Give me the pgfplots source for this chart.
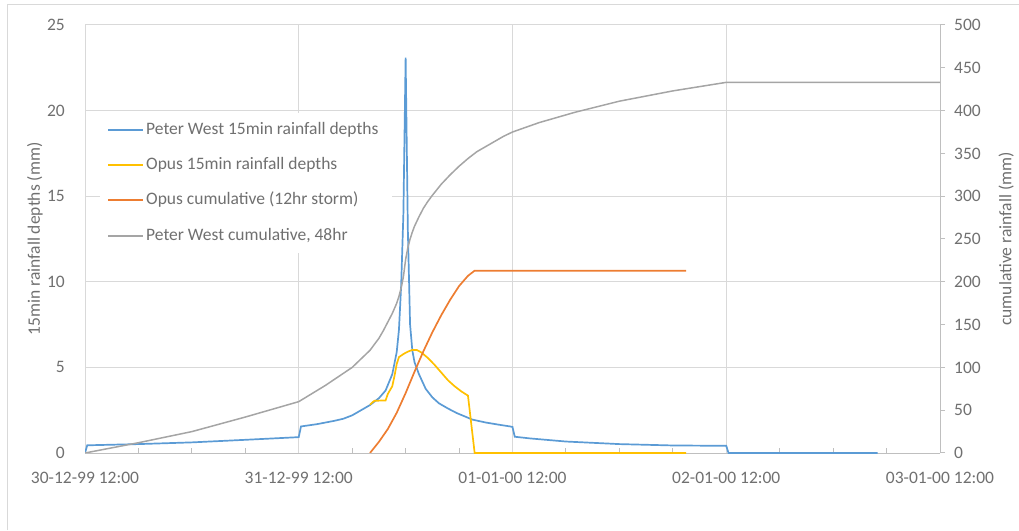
\documentclass[border=0pt]{standalone}
\usepackage{pgfplots}
\pgfplotsset{compat=1.18}
\usepackage{fontspec}
\setmainfont{Carlito}

\definecolor{pwblue}{HTML}{5B9BD5}
\definecolor{opyellow}{HTML}{FFC000}
\definecolor{oporange}{HTML}{ED7D31}
\definecolor{pwgray}{HTML}{A5A5A5}
\definecolor{gridc}{HTML}{D9D9D9}
\definecolor{axc}{HTML}{BFBFBF}
\definecolor{txt}{HTML}{707070}

\begin{document}
\begin{tikzpicture}[x=1pt,y=1pt]
\path[use as bounding box] (0,0) rectangle (1019,530);
% chart area frame
\draw[gridc, line width=1pt] (7,0) -- (7,525) -- (1019,525);

\pgfplotsset{every axis/.append style={
  scale only axis, width=855pt, height=428pt,
  at={(85pt,77pt)}, anchor=south west,
  xmin=0, xmax=96,
  font=\fontsize{17.5}{21}\selectfont,
  tick label style={text=txt},
  label style={text=txt},
}}

% primary axis: 15 minute depths
\begin{axis}[
  ymin=0, ymax=25, ytick={0,5,...,25},
  xtick={0,24,48,72,96},
  xticklabels={30-12-99 12:00, 31-12-99 12:00, 01-01-00 12:00, 02-01-00 12:00, 03-01-00 12:00},
  minor xtick={6,12,18,30,36,42,54,60,66,78,84,90},
  grid=major,
  major grid style={gridc, line width=1pt},
  axis x line*=bottom, axis y line*=left,
  x axis line style={axc, line width=1pt, -},
  y axis line style={gridc, line width=1pt, -},
  ytick style={draw=none},
  xtick style={axc, line width=1pt},
  tick align=inside,
  major tick length=0pt, minor tick length=5pt,
  xticklabel style={inner sep=0pt, anchor=north, yshift=-19pt},
  yticklabel style={inner sep=0pt, anchor=east, xshift=-20pt},
  ylabel={15min rainfall depths (mm)},
  ylabel style={at={(axis description cs:-0.0585,0.5)}, anchor=center},
  /pgf/number format/assume math mode=true,
]
\addplot[pwblue, line width=1.7pt] coordinates {
 (0,0) (0.25,0.45) (6,0.52) (12,0.62) (18,0.77) (23.75,0.92) (24,0.93)
 (24.25,1.55) (26,1.68) (28,1.88) (29,2.0) (30,2.2) (31,2.5) (32,2.8)
 (33,3.2) (33.75,3.65) (34.5,4.6) (35,5.9) (35.25,7.2) (35.5,9.8)
 (35.75,14) (36,23.1) (36.25,13) (36.5,7.5) (36.75,6.0) (37,5.3)
 (37.5,4.6) (38.25,3.75) (39,3.25) (39.75,2.9) (40.75,2.6) (41.75,2.33)
 (43.5,1.95) (45,1.78) (46.5,1.65) (47.75,1.55) (48,1.52) (48.25,0.95)
 (50,0.85) (54,0.67) (60,0.52) (66,0.44) (71.75,0.42) (72,0.42)
 (72.25,0) (89,0)
};
\addplot[opyellow, line width=1.7pt] coordinates {
 (32,2.82) (32.25,2.95) (32.5,3.05) (33.75,3.07) (34,3.45) (34.5,3.9)
 (34.75,4.5) (35,5.2) (35.25,5.6) (35.75,5.78) (36.25,5.92) (36.75,6.02)
 (37.25,6.02) (37.75,5.88) (38.5,5.55) (39.25,5.15) (40,4.7) (40.75,4.25)
 (41.5,3.9) (42.25,3.6) (43,3.35) (43.75,0) (67.5,0)
};
\end{axis}

% secondary axis: cumulative depths
\begin{axis}[
  ymin=0, ymax=500, ytick={0,50,...,500},
  axis x line=none, axis y line*=right,
  y axis line style={axc, line width=1pt, -},
  ytick style={axc, line width=1pt},
  tick align=outside, major tick length=5pt,
  yticklabel style={inner sep=0pt, anchor=west, xshift=9pt},
  ylabel={cumulative rainfall (mm)},
  ylabel style={at={(axis description cs:1.0775,0.5)}, anchor=center},
  /pgf/number format/assume math mode=true,
]
\addplot[oporange, line width=1.7pt] coordinates {
 (32,0) (33,13) (34,28) (35,47) (36,70) (37,95) (38,119) (39,141)
 (40,161) (41,179) (42,195) (43,207) (43.75,213) (67.5,213)
};
\addplot[pwgray, line width=1.5pt] coordinates {
 (0,0) (6,12) (12,25) (18,42) (24,60) (27,79) (30,100) (31,110) (32,120)
 (33,134) (33.5,143) (34,153) (34.5,163) (35,175) (35.25,183) (35.5,193)
 (35.75,206) (36,226) (36.25,240) (36.5,250) (36.75,258) (37,265)
 (37.5,276) (38,286) (38.5,294) (39,301) (40,314) (41,325) (42,335)
 (43,344) (44,352) (45,358) (46,364) (47,370) (48,375) (51,386) (55,398)
 (60,411) (66,423) (72,433) (96,433)
};
\end{axis}

% legend box
\fill[white] (100,277) rectangle (392,417);
\begin{scope}[line width=1.7pt]
  \draw[pwblue]   (108,400) -- (143,400);
  \draw[opyellow] (108,365) -- (143,365);
  \draw[oporange] (108,330) -- (143,330);
  \draw[pwgray, line width=1.5pt] (108,294) -- (143,294);
\end{scope}
\begin{scope}[every node/.style={anchor=west, inner sep=0pt, text=txt,
    font=\fontsize{17.5}{21}\selectfont}]
  \node at (146,400) {\strut Peter West 15min rainfall depths};
  \node at (146,365) {\strut Opus 15min rainfall depths};
  \node at (146,330) {\strut Opus cumulative (12hr storm)};
  \node at (146,294) {\strut Peter West cumulative, 48hr};
\end{scope}
\end{tikzpicture}
\end{document}
